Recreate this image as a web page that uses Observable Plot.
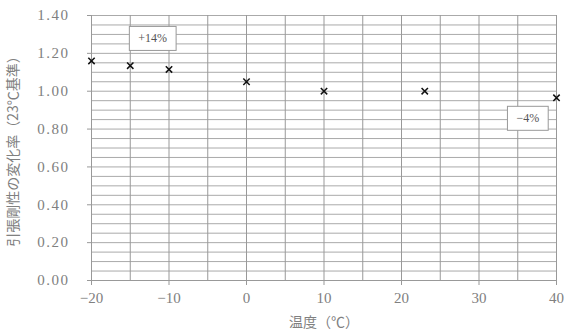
<!DOCTYPE html>
<html><head><meta charset="utf-8">
<script src="https://cdn.jsdelivr.net/npm/d3@7"></script>
<script src="https://cdn.jsdelivr.net/npm/@observablehq/plot@0.6"></script>
<style>
body{margin:0;background:#fff;}
</style></head><body>
<script>
const temps = [-20, -15, -10, 0, 10, 23, 40];
const ratios = [1.16, 1.135, 1.115, 1.05, 1.00, 1.00, 0.965];
const xTicks = [-20, -10, 0, 10, 20, 30, 40];
const yTicks = [0, 0.2, 0.4, 0.6, 0.8, 1.0, 1.2, 1.4];
const xGrid = d3.range(-20, 41, 5);
const yGrid = d3.range(0, 1.401, 0.05);
const noteLabels = ["+14%", "−4%"];
const noteX = [-12.1, 36.3];
const noteY = [1.278, 0.856];

const points = temps.map((t, i) => ({t, r: ratios[i]}));
const notes = noteLabels.map((label, i) => ({label, x: noteX[i], y: noteY[i]}));
const SERIF = "'Liberation Serif', serif";
const CJK = "'Noto Sans CJK JP', sans-serif";

const chart = Plot.plot({
  width: 574, height: 332,
  marginLeft: 91, marginRight: 18, marginTop: 15, marginBottom: 52,
  style: {fontSize: "15px", color: "#808080", background: "#fff"},
  x: {domain: [-20, 40]},
  y: {domain: [0, 1.4]},
  marks: [
    Plot.gridY(yGrid, {stroke: "#aaa", strokeOpacity: 1, strokeWidth: 1}),
    Plot.gridX(xGrid, {stroke: "#999", strokeOpacity: 1, strokeWidth: 1}),
    Plot.axisY(yTicks, {tickSize: 4, tickPadding: 18, tickFormat: d => d.toFixed(2), stroke: "#999", fill: "#808080", fontSize: 15, label: null}),
    Plot.axisX(xTicks, {tickSize: 5, tickPadding: 7, stroke: "#999", fill: "#808080", fontSize: 15, label: null}),
    Plot.ruleY([0], {stroke: "#999"}),
    Plot.ruleX([-20], {stroke: "#999"}),
    Plot.text(["引張剛性の変化率（23℃基準）"], {frameAnchor: "left", textAnchor: "middle", dx: -78, rotate: -90, fill: "#808080", fontSize: 14}),
    Plot.text(["温度（℃）"], {frameAnchor: "bottom", lineAnchor: "middle", dy: 42, fill: "#808080", fontSize: 14}),
    Plot.dot(points, {x: "t", y: "r", symbol: "times", r: 3, stroke: "#111", strokeWidth: 1.5}),
    Plot.text(notes, {x: "x", y: "y", text: "label", fill: "#555", fontSize: 12, className: "note"})
  ]
});
document.body.append(chart);
chart.querySelectorAll("text").forEach(t => {
  const s = t.textContent;
  const isCJK = /[\u3000-\u9fff\uff00-\uffef]/.test(s);
  t.style.setProperty("font-family", isCJK ? CJK : SERIF, "important");
  if (/^\d\.\d\d$/.test(s)) t.style.setProperty("letter-spacing", "1.5px", "important");
});
// draw boxes around annotation texts
chart.querySelectorAll("g.note text").forEach(t => {
  const b = t.getBBox();
  const r = document.createElementNS("http://www.w3.org/2000/svg", "rect");
  r.setAttribute("x", b.x - 9);
  r.setAttribute("y", b.y - 5);
  r.setAttribute("width", b.width + 18);
  r.setAttribute("height", b.height + 10);
  r.setAttribute("fill", "#fff");
  r.setAttribute("stroke", "#999");
  const tr = t.getAttribute("transform");
  if (tr) r.setAttribute("transform", tr);
  t.parentNode.insertBefore(r, t);
});
</script>
</body></html>
